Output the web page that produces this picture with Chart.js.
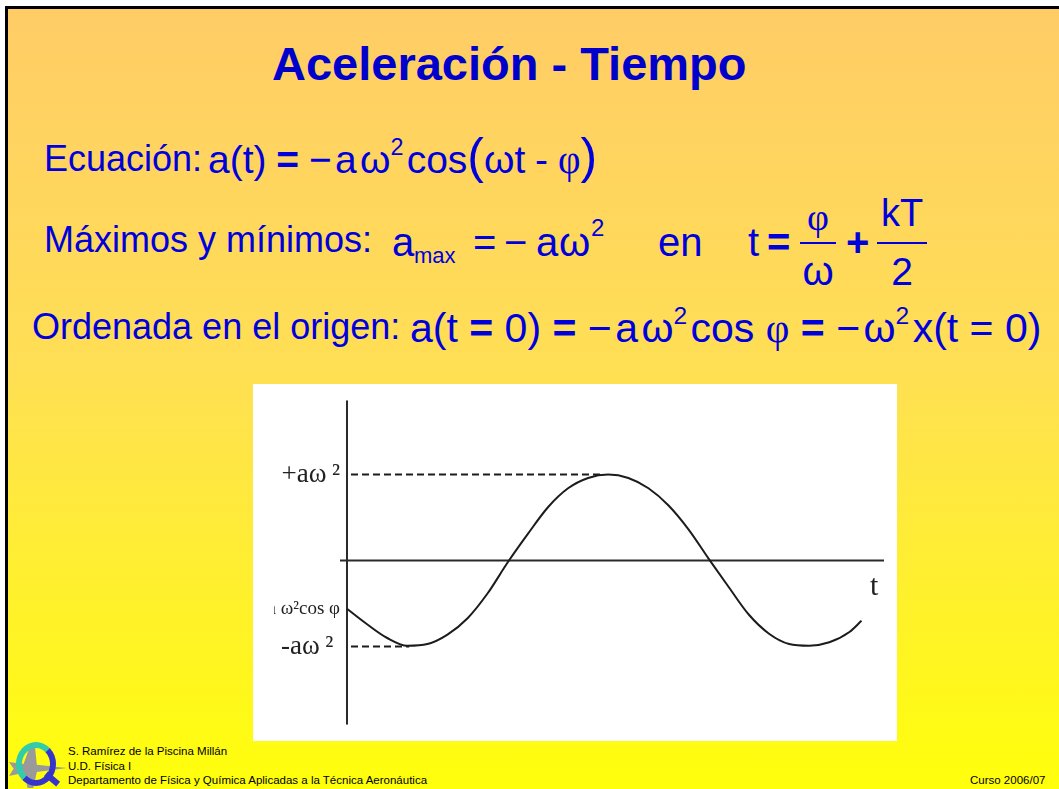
<!DOCTYPE html>
<html lang="es">
<head>
<meta charset="utf-8">
<title>Aceleración - Tiempo</title>
<script src="https://cdn.jsdelivr.net/npm/chart.js@4.4.1/dist/chart.umd.min.js"></script>
<style>
  html, body { margin: 0; padding: 0; background: #fff; }
  body { width: 1059px; height: 789px; overflow: hidden; position: relative;
         font-family: "Liberation Sans", Arial, sans-serif; }
  .slide { position: absolute; left: 5px; top: 6px; width: 1054px; height: 783px;
           border-left: 3px solid #000; border-top: 3px solid #000;
           background: linear-gradient(to bottom, #ffcc66 0%, #ffdf55 45%, #ffff0a 100%); }
  .p { position: absolute; white-space: nowrap; color: #0000dd; line-height: 1; }
  .title { color: #0000cc; font-weight: bold; font-size: 47px; }
  .ser { font-family: "Liberation Serif", "Times New Roman", serif; }
  .b { font-weight: bold; }
  .sup { font-size: 0.6em; position: relative; top: -0.75em; line-height: 0; }
  .big { font-size: 1.28em; line-height: 0; }
  .f36 { font-size: 36px; }
  .f40 { font-size: 40px; }
  .frac { position: absolute; text-align: center; color: #0000dd; line-height: 1; }
  .bar { position: absolute; height: 0; border-top: 2px solid #0000dd; }
  .box { position: absolute; left: 253px; top: 384px; width: 644px; height: 357px; background: #fff; }
  .clip { position: absolute; left: 21px; top: 0; width: 623px; height: 357px; overflow: hidden; }
  #grafica { position: absolute; left: -40px; top: 0; }
  .t-label { position: absolute; left: 870px; top: 570px; font: 30px "Liberation Serif", serif; color: #222; line-height: 30px; }
  .foot { position: absolute; font-size: 11.5px; line-height: 14.5px; color: #000; white-space: nowrap; }
  .logo-q { position: absolute; left: 16px; top: 742px; width: 28px; height: 32px; border: 6px solid #3535cc;
            border-left-color: #33ccaa; border-top-color: #33ccaa; border-radius: 50%; }
  .logo-tail { position: absolute; left: 44px; top: 776px; width: 16px; height: 6px; background: #3535cc; transform: rotate(40deg); }
  .logo-jet { position: absolute; left: 9px; top: 748px; width: 58px; height: 40px; background: #9a9a9a;
              clip-path: polygon(0% 35%, 25% 40%, 35% 0%, 45% 0%, 48% 42%, 100% 50%, 48% 60%, 42% 100%, 32% 100%, 26% 62%, 0% 70%, 8% 52%); }
</style>
</head>
<body>
<div class="slide"></div>

<div class="p title" style="left:272px; top:40px;">Aceleración - Tiempo</div>

<!-- línea 1: ecuación -->
<div class="p f36" style="left:44px; top:141px;">Ecuación:</div>
<div class="p" style="left:208px; top:140px; font-size:39px; word-spacing:-1px;">a(t) <span class="b">=</span> −&#8202;a&#8202;ω<span class="sup">2</span>&#8202;cos<span class="big">(</span>ωt - <span class="ser">φ</span><span class="big">)</span></div>

<!-- línea 2: máximos y mínimos -->
<div class="p f36" style="left:44px; top:222px;">Máximos y mínimos:</div>
<div class="p f40" style="left:392px; top:222px;">a</div>
<div class="p" style="left:414px; top:245px; font-size:22px;">max</div>
<div class="p f40" style="left:473px; top:222px;">=</div>
<div class="p f40" style="left:504px; top:222px;">−</div>
<div class="p f40" style="left:536px; top:222px;">a</div>
<div class="p f40" style="left:559px; top:222px;">ω</div>
<div class="p" style="left:591px; top:216px; font-size:24px;">2</div>
<div class="p f40" style="left:658px; top:222px;">en</div>
<div class="p f40" style="left:748px; top:222px;">t</div>
<div class="p f40 b" style="left:767px; top:222px;">=</div>
<div class="frac ser" style="left:800px; top:198px; width:36px; font-size:38px;">φ</div>
<div class="bar" style="left:800px; top:242px; width:36px;"></div>
<div class="frac" style="left:800px; top:251px; width:36px; font-size:40px;">ω</div>
<div class="p f40 b" style="left:846px; top:222px;">+</div>
<div class="frac" style="left:877px; top:194px; width:50px; font-size:38px;">kT</div>
<div class="bar" style="left:877px; top:242px; width:50px;"></div>
<div class="frac" style="left:877px; top:252px; width:50px; font-size:39px;">2</div>

<!-- línea 3: ordenada en el origen -->
<div class="p f36" style="left:32px; top:309px;">Ordenada en el origen:</div>
<div class="p" style="left:410px; top:308px; font-size:41px;">a(t <span class="b">=</span> 0) <span class="b">=</span> −&#8202;a&#8202;ω<span class="sup">2</span>&#8202;cos <span class="ser">φ</span> <span class="b">=</span> −&#8202;ω<span class="sup">2</span>&#8202;x(t = 0)</div>

<!-- gráfica -->
<div class="box">
  <div class="clip"><canvas id="grafica" width="663" height="357"></canvas></div>
</div>
<div class="t-label">t</div>

<!-- pie -->
<div class="logo-jet"></div>
<div class="logo-q"></div>
<div class="logo-tail"></div>
<div class="foot" style="left:68px; top:744px;">S. Ramírez de la Piscina Millán<br>U.D. Física I<br>Departamento de Física y Química Aplicadas a la Técnica Aeronáutica</div>
<div class="foot" style="left:970px; top:773px;">Curso 2006/07</div>

<script>
// tiempo en fracciones de periodo, aceleración en unidades de a·ω²
const tiempo = [0, 0.05, 0.10, 0.15, 0.20, 0.25, 0.30, 0.35, 0.40, 0.45, 0.50, 0.55, 0.60, 0.65,
                0.70, 0.75, 0.80, 0.85, 0.90, 0.95, 1.00, 1.05, 1.10, 1.15, 1.20, 1.25, 1.28];
const aceleracion = [-0.56, -0.74, -0.90, -0.99, -0.97, -0.86, -0.67, -0.38, -0.02, 0.31, 0.62, 0.84, 0.96, 1.00,
                     0.96, 0.84, 0.64, 0.36, 0.02, -0.31, -0.63, -0.85, -0.97, -0.99, -0.95, -0.83, -0.70];

// líneas de referencia discontinuas
const tramoMax = [0.01, 0.63];
const nivelMax = 1;
const tramoMin = [0.01, 0.155];
const nivelMin = -1;

// extensión de los ejes dibujados
const ejeT = [-0.0174, 1.336];
const ejeA = [-1.909, 1.864];

// marcas del eje vertical
const marcasA = [1, -0.56, -1];
const etiquetasA = ['+aω\u2009²', 'a ω²cos φ', '-aω\u2009² '];

const curva = tiempo.map((t, i) => ({ x: t, y: aceleracion[i] }));
const tramo = (xs, y) => xs.map(x => ({ x: x, y: y }));

new Chart(document.getElementById('grafica'), {
    type: 'line',
    data: {
        datasets: [
            {
                label: 'a(t)',
                data: curva,
                borderColor: '#1c1c1c',
                borderWidth: 2,
                pointRadius: 0,
                cubicInterpolationMode: 'monotone'
            },
            {
                label: 'max',
                data: tramo(tramoMax, nivelMax),
                borderColor: '#1c1c1c',
                borderWidth: 2,
                borderDash: [7, 4],
                pointRadius: 0
            },
            {
                label: 'min',
                data: tramo(tramoMin, nivelMin),
                borderColor: '#1c1c1c',
                borderWidth: 2,
                borderDash: [7, 4],
                pointRadius: 0
            },
            {
                label: 'eje a',
                data: [{ x: 0, y: ejeA[0] }, { x: 0, y: ejeA[1] }],
                borderColor: '#2a2a2a',
                borderWidth: 2,
                pointRadius: 0
            },
            {
                label: 'eje t',
                data: tramo(ejeT, 0),
                borderColor: '#2a2a2a',
                borderWidth: 2,
                pointRadius: 0
            }
        ]
    },
    options: {
        responsive: false,
        animation: false,
        events: [],
        layout: { padding: { left: 30, top: 13, right: 13, bottom: 12 } },
        plugins: {
            legend: { display: false },
            tooltip: { enabled: false }
        },
        scales: {
            x: {
                type: 'linear',
                min: ejeT[0],
                max: ejeT[1],
                display: false
            },
            y: {
                type: 'linear',
                min: ejeA[0],
                max: ejeA[1],
                grid: { display: false, drawTicks: false, tickLength: 0 },
                border: { display: false },
                afterBuildTicks: (scale) => {
                    scale.ticks = marcasA.map(v => ({ value: v }));
                },
                afterFit: (scale) => {
                    scale.width = 76;
                },
                ticks: {
                    padding: 0,
                    color: '#222',
                    callback: (value, index) => etiquetasA[index],
                    font: (ctx) => ({
                        family: '"Liberation Serif", "Times New Roman", serif',
                        size: ctx.index === 1 ? 19 : 27
                    })
                }
            }
        }
    }
});
</script>
</body>
</html>
